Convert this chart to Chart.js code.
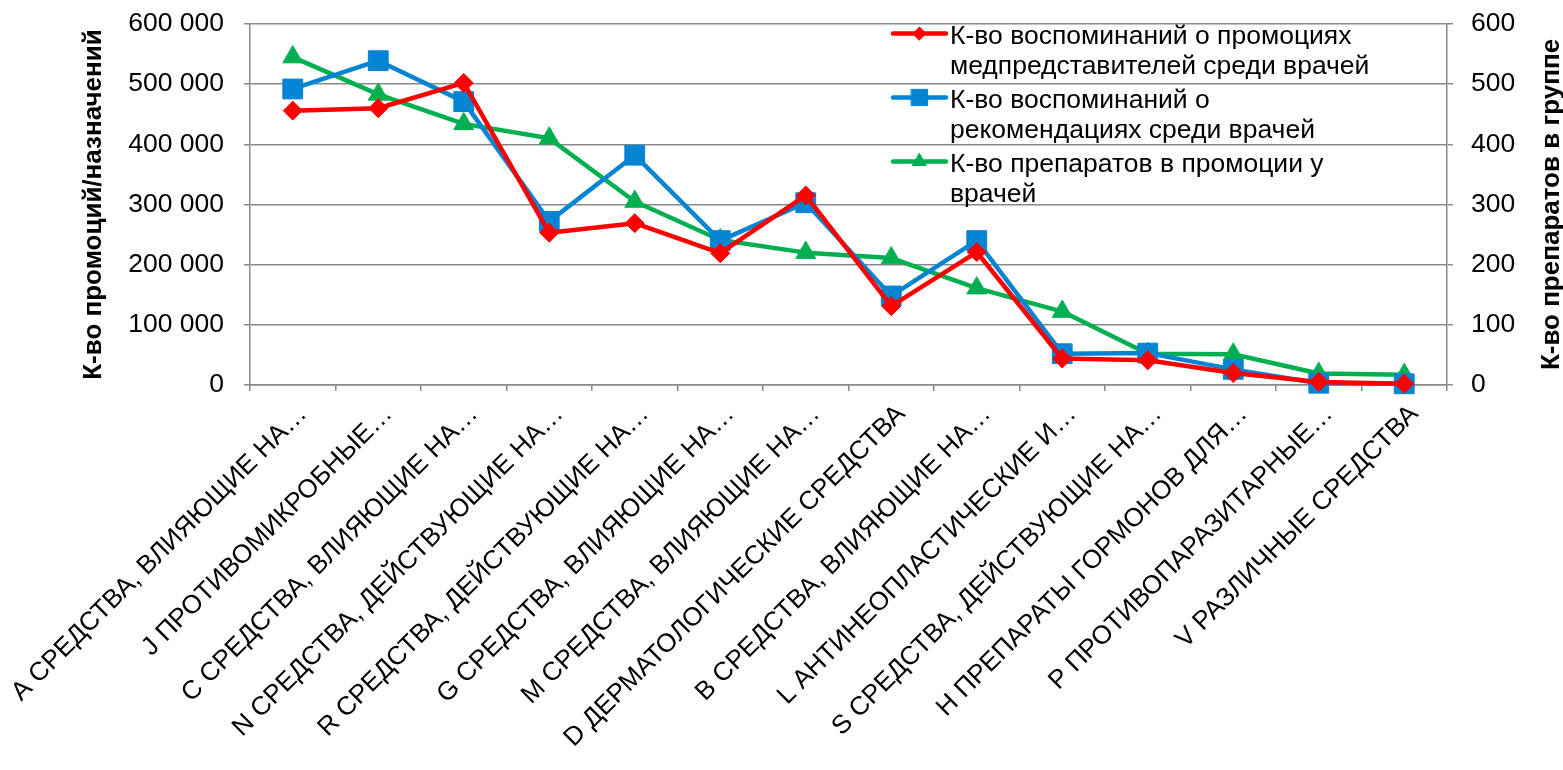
<!DOCTYPE html>
<html lang="ru">
<head>
<meta charset="utf-8">
<title>Промоции и рекомендации по группам АТХ</title>
<script src="https://cdn.jsdelivr.net/npm/chart.js@4.4.1/dist/chart.umd.min.js"></script>
<style>
  html, body { margin: 0; padding: 0; background: #fff; }
  #wrap { width: 1563px; height: 770px; }
</style>
</head>
<body>
<div id="wrap"><canvas id="chart" width="1563" height="770"></canvas></div>
<script>
// группы АТХ
const categories = [
    'A СРЕДСТВА, ВЛИЯЮЩИЕ НА…',
    'J ПРОТИВОМИКРОБНЫЕ…',
    'C СРЕДСТВА, ВЛИЯЮЩИЕ НА…',
    'N СРЕДСТВА, ДЕЙСТВУЮЩИЕ НА…',
    'R СРЕДСТВА, ДЕЙСТВУЮЩИЕ НА…',
    'G СРЕДСТВА, ВЛИЯЮЩИЕ НА…',
    'M СРЕДСТВА, ВЛИЯЮЩИЕ НА…',
    'D ДЕРМАТОЛОГИЧЕСКИЕ СРЕДСТВА',
    'B СРЕДСТВА, ВЛИЯЮЩИЕ НА…',
    'L АНТИНЕОПЛАСТИЧЕСКИЕ И…',
    'S СРЕДСТВА, ДЕЙСТВУЮЩИЕ НА…',
    'H ПРЕПАРАТЫ ГОРМОНОВ ДЛЯ…',
    'P ПРОТИВОПАРАЗИТАРНЫЕ…',
    'V РАЗЛИЧНЫЕ СРЕДСТВА'
];

// левая ось
const promoRecall = [456000, 460000, 502000, 253000, 269000, 219000, 315000, 131000, 221000, 44000, 41000, 20000, 5000, 2000];
const recommendRecall = [492000, 539000, 471000, 272000, 382000, 240000, 303000, 148000, 240000, 52000, 53000, 26000, 3000, 2000];
// правая ось
const drugsInPromo = [545, 483, 434, 410, 305, 241, 220, 211, 161, 122, 52, 51, 19, 17];

const seriesNames = [
    ['К-во воспоминаний о промоциях', 'медпредставителей среди врачей'],
    ['К-во воспоминаний о', 'рекомендациях среди врачей'],
    ['К-во препаратов в промоции у', 'врачей']
];

const leftTitle = 'К-во промоций/назначений';
const rightTitle = 'К-во препаратов в группе';

const FONT = 'Arial, "Liberation Sans", sans-serif';
const gridColor = '#888888';

// маркеры в легенде мельче, чем на линиях
const legendMarkerRadius = [6.5, 11.5, 8];

const fmt = v => String(v).replace(/\B(?=(\d{3})+(?!\d))/g, ' ');

// оси не должны сдвигать область построения из-за подписей
const noPad = s => {
    s.paddingTop = 0;
    s.paddingBottom = 0;
    s.paddingLeft = 0;
    s.paddingRight = 0;
};

// легенда внутри области графика, с переносом строк
const insideLegend = {
    id: 'insideLegend',
    afterDatasetsDraw(chart) {
        const ctx = chart.ctx;
        const area = chart.chartArea;
        const x0 = area.left + 643, x1 = x0 + 53, tx = x1 + 4;
        let y = area.top + 9.5;
        chart.data.datasets.forEach((ds, i) => {
            ctx.save();
            ctx.strokeStyle = ds.borderColor;
            ctx.fillStyle = ds.borderColor;
            ctx.lineWidth = ds.borderWidth;
            ctx.lineCap = 'round';
            ctx.beginPath();
            ctx.moveTo(x0, y);
            ctx.lineTo(x1, y);
            ctx.stroke();
            ctx.lineWidth = 1;
            Chart.helpers.drawPoint(ctx, {
                pointStyle: ds.pointStyle,
                radius: legendMarkerRadius[i],
                borderWidth: 1,
                rotation: 0
            }, (x0 + x1) / 2, y);
            ctx.fillStyle = '#000';
            ctx.font = '26.5px ' + FONT;
            ctx.textBaseline = 'alphabetic';
            ctx.textAlign = 'left';
            seriesNames[i].forEach((line, j) => {
                ctx.fillText(line, tx, y + 10 + j * 30.5);
            });
            ctx.restore();
            y += 64;
        });
    }
};

// заголовок правой оси читается снизу вверх
const rightAxisTitle = {
    id: 'rightAxisTitle',
    afterDraw(chart) {
        const ctx = chart.ctx;
        const area = chart.chartArea;
        ctx.save();
        ctx.translate(chart.width - 11, (area.top + area.bottom) / 2);
        ctx.rotate(-Math.PI / 2);
        ctx.font = 'bold 26px ' + FONT;
        ctx.fillStyle = '#000';
        ctx.textAlign = 'center';
        ctx.textBaseline = 'middle';
        ctx.fillText(rightTitle, 0, 0);
        ctx.restore();
    }
};

const lineStyle = {
    borderWidth: 4.5,
    borderJoinStyle: 'round',
    borderCapStyle: 'round',
    pointBorderWidth: 1,
    tension: 0,
    clip: false
};

const ctx = document.getElementById('chart').getContext('2d');

new Chart(ctx, {
    type: 'line',
    data: {
        labels: categories,
        datasets: [{
            ...lineStyle,
            label: seriesNames[0].join(' '),
            data: promoRecall,
            yAxisID: 'y',
            borderColor: '#ff0000',
            backgroundColor: '#ff0000',
            pointStyle: 'rectRot',
            pointRadius: 9.5
        }, {
            ...lineStyle,
            label: seriesNames[1].join(' '),
            data: recommendRecall,
            yAxisID: 'y',
            borderColor: '#0584d4',
            backgroundColor: '#0584d4',
            pointStyle: 'rect',
            pointRadius: 14
        }, {
            ...lineStyle,
            label: seriesNames[2].join(' '),
            data: drugsInPromo,
            yAxisID: 'y1',
            borderColor: '#00b050',
            backgroundColor: '#00b050',
            pointStyle: 'triangle',
            pointRadius: 11.5
        }]
    },
    options: {
        responsive: false,
        animation: false,
        layout: { padding: { top: 24, left: 0, right: 0, bottom: 0 } },
        plugins: {
            legend: { display: false },
            tooltip: { enabled: false }
        },
        scales: {
            x: {
                offset: true,
                grid: {
                    display: true,
                    offset: true,
                    drawOnChartArea: false,
                    drawTicks: true,
                    tickLength: 6,
                    color: gridColor,
                    lineWidth: 1.5
                },
                border: { display: true, color: gridColor, width: 1.5 },
                ticks: {
                    autoSkip: false,
                    minRotation: 45,
                    maxRotation: 45,
                    padding: 8,
                    labelOffset: 10,
                    color: '#000',
                    font: { family: FONT, size: 26 }
                },
                afterFit: s => { s.height = 385; noPad(s); }
            },
            y: {
                position: 'left',
                min: 0,
                max: 600000,
                ticks: {
                    stepSize: 100000,
                    padding: 20,
                    color: '#000',
                    font: { family: FONT, size: 26.5 },
                    callback: v => fmt(v)
                },
                grid: {
                    color: gridColor,
                    lineWidth: 1.5,
                    tickLength: 6
                },
                border: { display: true, color: gridColor, width: 1.5 },
                title: {
                    display: true,
                    text: leftTitle,
                    color: '#000',
                    font: { family: FONT, size: 26, weight: 'bold' },
                    padding: { top: 78, bottom: 0 }
                },
                afterFit: s => { s.width = 250; noPad(s); }
            },
            y1: {
                position: 'right',
                min: 0,
                max: 600,
                ticks: {
                    stepSize: 100,
                    padding: 18,
                    color: '#000',
                    font: { family: FONT, size: 26.5 }
                },
                grid: {
                    drawOnChartArea: false,
                    color: gridColor,
                    lineWidth: 1.5,
                    tickLength: 6
                },
                border: { display: true, color: gridColor, width: 1.5 },
                afterFit: s => { s.width = 116; noPad(s); }
            }
        }
    },
    plugins: [insideLegend, rightAxisTitle]
});
</script>
</body>
</html>
